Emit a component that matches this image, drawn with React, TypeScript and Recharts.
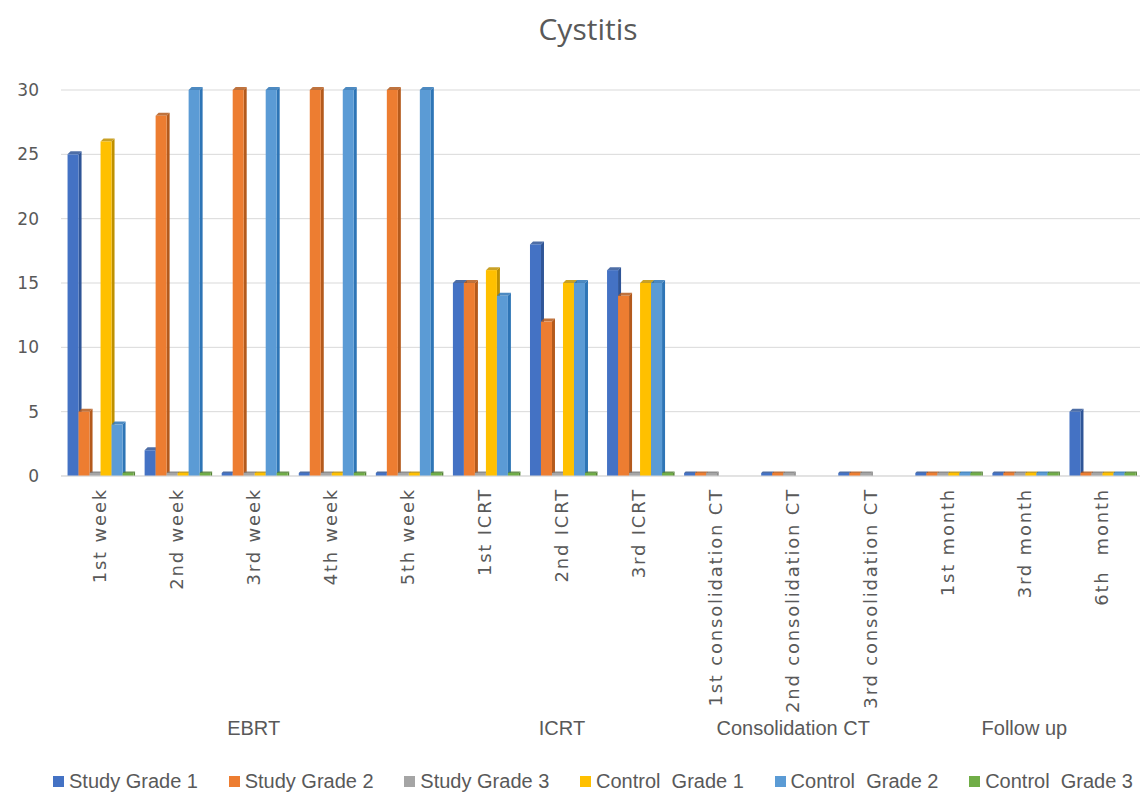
import React from 'react';
import { BarChart, Bar, XAxis, YAxis, CartesianGrid, Legend } from 'recharts';

const categories = [
  '1st week', '2nd week', '3rd week', '4th week', '5th week',
  '1st ICRT', '2nd ICRT', '3rd ICRT',
  '1st consolidation CT', '2nd consolidation CT', '3rd consolidation CT',
  '1st month', '3rd month', '6th  month',
];
const groups = ['EBRT', 'EBRT', 'EBRT', 'EBRT', 'EBRT', 'ICRT', 'ICRT', 'ICRT',
  'Consolidation CT', 'Consolidation CT', 'Consolidation CT', 'Follow up', 'Follow up', 'Follow up'];
const groupLabelIndex = [2, 6, 9, 12];

const studyG1 = [25, 2, 0, 0, 0, 15, 18, 16, 0, 0, 0, 0, 0, 5];
const studyG2 = [5, 28, 30, 30, 30, 15, 12, 14, 0, 0, 0, 0, 0, 0];
const studyG3 = [0, 0, 0, 0, 0, 0, 0, 0, 0, 0, 0, 0, 0, 0];
const controlG1 = [26, 0, 0, 0, 0, 16, 15, 15, null, null, null, 0, 0, 0];
const controlG2 = [4, 30, 30, 30, 30, 14, 15, 15, null, null, null, 0, 0, 0];
const controlG3 = [0, 0, 0, 0, 0, 0, 0, 0, null, null, null, 0, 0, 0];
const yTicks = [0, 5, 10, 15, 20, 25, 30];

const series = [
  { key: 'sg1', name: 'Study Grade 1', values: studyG1, color: '#4472C4', dark: '#2F5597' },
  { key: 'sg2', name: 'Study Grade 2', values: studyG2, color: '#ED7D31', dark: '#B45A1C' },
  { key: 'sg3', name: 'Study Grade 3', values: studyG3, color: '#A5A5A5', dark: '#7B7B7B' },
  { key: 'cg1', name: 'Control  Grade 1', values: controlG1, color: '#FFC000', dark: '#BF9000' },
  { key: 'cg2', name: 'Control  Grade 2', values: controlG2, color: '#5B9BD5', dark: '#2E75B6' },
  { key: 'cg3', name: 'Control  Grade 3', values: controlG3, color: '#70AD47', dark: '#548235' },
];

const data = categories.map((name, i) => {
  const row: any = { name, group: groups[i] };
  series.forEach((s) => { row[s.key] = s.values[i]; });
  return row;
});

const grey = '#595959';
const labelFont = "'Liberation Sans', Arial, sans-serif";

// front face + darker side/top so it reads like the Excel 3-D column
const make3D = (fill: string, dark: string) => (props: any) => {
  const { x, y, width, height } = props;
  if (height == null || isNaN(height) || width == null) return null;
  const d = height > 4 ? 3 : 1.5;
  return (
    <g>
      <polygon points={`${x + width},${y} ${x + width + d},${y - d} ${x + width + d},${y + height} ${x + width},${y + height}`} fill={dark} />
      <polygon points={`${x},${y} ${x + d},${y - d} ${x + width + d},${y - d} ${x + width},${y}`} fill={dark} opacity={0.85} />
      <rect x={x} y={y} width={width} height={height} fill={fill} />
    </g>
  );
};

const CatTick = (props: any) => {
  const { x, y, payload } = props;
  const ty = y + 4;
  return (
    <text
      x={x}
      y={ty}
      transform={`rotate(-90, ${x}, ${ty})`}
      textAnchor="end"
      dy="0.35em"
      fill={grey}
      fontSize={18}
      fontFamily="DejaVu Sans"
      letterSpacing={1.8}
      style={{ whiteSpace: 'pre' }}
    >
      {payload.value}
    </text>
  );
};

const GroupTick = (props: any) => {
  const { x, y, index } = props;
  if (!groupLabelIndex.includes(index)) return null;
  return (
    <text x={x} y={y + 16} textAnchor="middle" fill={grey} fontSize={20} fontFamily={labelFont}>
      {groups[index]}
    </text>
  );
};

const LegendBox = () => (
  <div style={{
    marginLeft: 53, width: 1080, height: 30, display: 'flex', alignItems: 'center',
    justifyContent: 'space-between', fontFamily: labelFont, fontSize: 20, color: grey,
  }}>
    {series.map((s) => (
      <div key={s.key} style={{ display: 'flex', alignItems: 'center' }}>
        <span style={{ display: 'inline-block', width: 11, height: 11, background: s.color, marginRight: 5 }} />
        <span style={{ whiteSpace: 'pre' }}>{s.name}</span>
      </div>
    ))}
  </div>
);

export default function App() {
  return (
    <div style={{ position: 'absolute', left: 0, top: 0, width: 1140, height: 796, background: '#fff' }}>
      <div style={{
        position: 'absolute', top: 8, left: 18, width: 1140, textAlign: 'center',
        fontFamily: "'Open Sans', sans-serif", fontSize: 30, color: grey,
      }}>
        Cystitis
      </div>
      <BarChart
        width={1140}
        height={796}
        data={data}
        margin={{ top: 90, right: 0, left: 0, bottom: 0 }}
        barCategoryGap="8.5%"
        barGap={0}
      >
        <CartesianGrid vertical={false} stroke="#d9d9d9" />
        <YAxis
          domain={[0, 30]}
          ticks={yTicks}
          width={61}
          axisLine={false}
          tickLine={false}
          tick={{ fill: grey, fontSize: 17, fontFamily: 'DejaVu Sans' }}
          tickMargin={16}
        />
        <XAxis
          dataKey="name"
          interval={0}
          height={235}
          tick={<CatTick />}
          tickLine={false}
          axisLine={{ stroke: '#d9d9d9' }}
        />
        <XAxis
          xAxisId="group"
          dataKey="name"
          interval={0}
          height={55}
          tick={<GroupTick />}
          tickLine={false}
          axisLine={false}
        />
        <Legend verticalAlign="bottom" content={<LegendBox />} />
        {series.map((s) => (
          <Bar
            key={s.key}
            dataKey={s.key}
            name={s.name}
            fill={s.color}
            isAnimationActive={false}
            minPointSize={(v: any) => (v == null ? 0 : 3)}
            shape={make3D(s.color, s.dark)}
          />
        ))}
      </BarChart>
    </div>
  );
}
